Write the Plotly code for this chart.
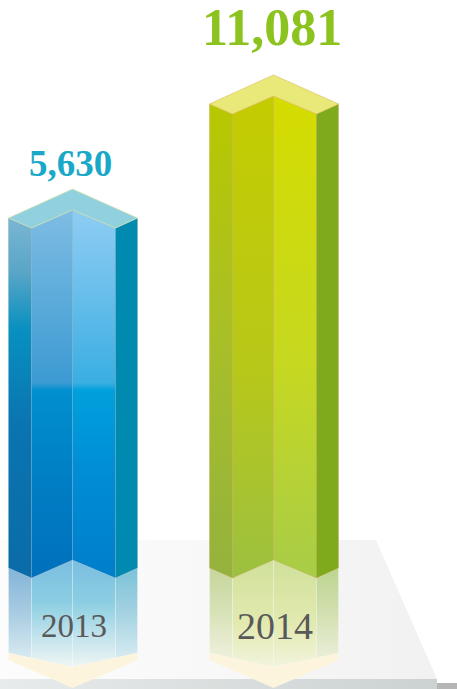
import plotly.graph_objects as go

# ---- data -------------------------------------------------------------
CATEGORIES = ["2013", "2014"]
VALUES = [5630, 11081]

# ---- styling ----------------------------------------------------------
VALUE_COLORS = ["#19a8c8", "#8cc31e"]
VALUE_SIZES = [37, 52]
YEAR_SIZES = [33, 38]

BAR_STYLES = [
    {   # blue column
        "left": [[0, "#0a6ca8"], [0.42, "#0a74b0"], [0.69, "#0890c0"], [0.85, "#5aa5c8"], [1, "#7ab6d2"]],
        "midL": [[0, "#0070bc"], [0.3, "#0080c6"], [0.51, "#008fcf"], [0.53, "#3c9ad2"], [0.8, "#62aedc"], [1, "#7fbde4"]],
        "midR": [[0, "#007ecb"], [0.3, "#008ed6"], [0.51, "#00a0dc"], [0.53, "#3aaee2"], [0.8, "#6dc0ec"], [1, "#8ecdf3"]],
        "right": "#008ab0",
        "top": "#91d1df",
        "edge": "rgba(215,225,170,0.9)",
        "face_edge": "rgba(120,170,190,0.6)",
        "r_left": [[0, "#d8eaf0"], [0.5, "#a8cce2"], [1, "#84b4d8"]],
        "r_mid": [[0, "#eef6f4"], [0.3, "#c0e2ec"], [0.6, "#8ccfe2"], [1, "#7abde0"]],
        "r_right": [[0, "#d6ebf0"], [0.5, "#a4d2e2"], [1, "#7cc2d8"]],
    },
    {   # green column
        "left": [[0, "#94b23e"], [0.5, "#a8bf28"], [1, "#b8c800"]],
        "midL": [[0, "#9cc040"], [0.45, "#b8c818"], [1, "#c4cc00"]],
        "midR": [[0, "#a8cc48"], [0.45, "#c6d820"], [1, "#d4dc00"]],
        "right": "#7eaa1c",
        "top": "#e9e97a",
        "edge": "rgba(220,190,90,0.8)",
        "face_edge": "rgba(200,160,70,0.6)",
        "r_left": [[0, "#eef0dc"], [0.5, "#d8e2b8"], [1, "#c6d69c"]],
        "r_mid": [[0, "#f2f4dc"], [0.4, "#e2eab0"], [1, "#d0e09a"]],
        "r_right": [[0, "#eaeed8"], [0.5, "#d2e0b0"], [1, "#bcd490"]],
    },
]
BAND_COLOR = "#fcf4dc"

# ---- canvas / scale ---------------------------------------------------
W, H = 457, 689
FLOOR_PX = 568          # pixel row of the floor line
FLOOR_VALUE = -11100    # axis value lying on the floor line
UNITS_PER_PX = 47.8     # vertical axis units per pixel
SLOT_PX = 201.0         # pixel distance between category slots
FIRST_SLOT_PX = 72.5    # pixel column of the first slot

# column cross-section (pixel offsets from the slot centre)
XL, XI, XC, XJ, XR = -64, -41, 0, 43, 65
NOTCH, FRONT, PEAK = 10, -8, -29


def vy(p):
    return FLOOR_VALUE + (FLOOR_PX - p) * UNITS_PER_PX


def py(v):
    return FLOOR_PX - (v - FLOOR_VALUE) / UNITS_PER_PX


def vx(p):
    return (p - FIRST_SLOT_PX) / SLOT_PX


fig = go.Figure()


def poly(pts, fill=None, gradient=None, gtype="vertical", line="rgba(0,0,0,0)", lw=0):
    xs = [vx(x) for x, _ in pts] + [vx(pts[0][0])]
    ys = [vy(y) for _, y in pts] + [vy(pts[0][1])]
    kw = dict(x=xs, y=ys, mode="lines", fill="toself",
              line=dict(color=line, width=lw), hoverinfo="skip", showlegend=False)
    if gradient is not None:
        kw["fillgradient"] = dict(type=gtype, colorscale=gradient)
    else:
        kw["fillcolor"] = fill
    fig.add_trace(go.Scatter(**kw))


# floor plate and its front edge
poly([(0, 540), (376, 540), (437, 679), (0, 679)],
     gradient=[[0, "#fcfcfc"], [0.5, "#f8f8f8"], [1, "#f1f1f1"]], gtype="horizontal")
poly([(0, 679), (437, 679), (437, 689), (0, 689)],
     gradient=[[0, "#e8ebeb"], [1, "#cbd2d1"]], gtype="horizontal")
poly([(437, 683), (457, 683), (457, 689), (437, 689)], fill="#b6b6b6")

for i, (cat, val) in enumerate(zip(CATEGORIES, VALUES)):
    s = BAR_STYLES[i]
    cx = FIRST_SLOT_PX + i * SLOT_PX
    t = py(val)
    f = FLOOR_PX

    def P(dx, y):
        return (cx + dx, y)

    # reflection on the floor
    re = "rgba(255,255,255,0.45)"
    poly([P(XL, f), P(XI, f + NOTCH), P(XI, f + 90), P(XL, f + 85)], gradient=s["r_left"], line=re, lw=0.5)
    poly([P(XI, f + NOTCH), P(XC, f + FRONT), P(XC, f + 99), P(XI, f + 90)], gradient=s["r_mid"], line=re, lw=0.5)
    poly([P(XC, f + FRONT), P(XJ, f + NOTCH), P(XJ, f + 90), P(XC, f + 99)], gradient=s["r_mid"], line=re, lw=0.5)
    poly([P(XJ, f + NOTCH), P(XR, f), P(XR, f + 85), P(XJ, f + 90)], gradient=s["r_right"], line=re, lw=0.5)
    poly([P(XL, f + 85), P(XC, f + 99), P(XR, f + 85), P(XR, f + 92), P(XC, f + 120), P(XL, f + 92)],
         fill=BAND_COLOR)

    # column faces
    fe = s["face_edge"]
    poly([P(XL, t), P(XI, t + NOTCH), P(XI, f + NOTCH), P(XL, f)], gradient=s["left"], line=fe, lw=0.6)
    poly([P(XI, t + NOTCH), P(XC, t + FRONT), P(XC, f + FRONT), P(XI, f + NOTCH)], gradient=s["midL"], line=fe, lw=0.6)
    poly([P(XC, t + FRONT), P(XJ, t + NOTCH), P(XJ, f + NOTCH), P(XC, f + FRONT)], gradient=s["midR"], line=fe, lw=0.6)
    poly([P(XJ, t + NOTCH), P(XR, t), P(XR, f), P(XJ, f + NOTCH)], fill=s["right"], line=fe, lw=0.6)
    poly([P(XL, t), P(XC, t + PEAK), P(XR, t), P(XJ, t + NOTCH), P(XC, t + FRONT), P(XI, t + NOTCH)],
         fill=s["top"], line=s["edge"], lw=0.8)

    # value label above the column
    size = VALUE_SIZES[i]
    fig.add_annotation(x=vx(cx - 2), y=vy(t - 1.48 * size), text=f"<b>{val:,}</b>",
                       showarrow=False, xanchor="center", yanchor="middle",
                       font=dict(family="Liberation Serif", size=size, color=VALUE_COLORS[i]))
    # category label in the reflection
    fig.add_annotation(x=vx(cx + 1), y=vy(f + 58), text=cat,
                       showarrow=False, xanchor="center", yanchor="middle",
                       font=dict(family="Liberation Serif", size=YEAR_SIZES[i], color="#595959"))

fig.update_layout(
    width=W, height=H,
    margin=dict(l=0, r=0, t=0, b=0),
    paper_bgcolor="white", plot_bgcolor="white",
    showlegend=False, hovermode=False,
    xaxis=dict(range=[vx(0), vx(W)], visible=False, fixedrange=True),
    yaxis=dict(range=[vy(H), vy(0)], visible=False, fixedrange=True),
)

fig.write_html("out.html")
